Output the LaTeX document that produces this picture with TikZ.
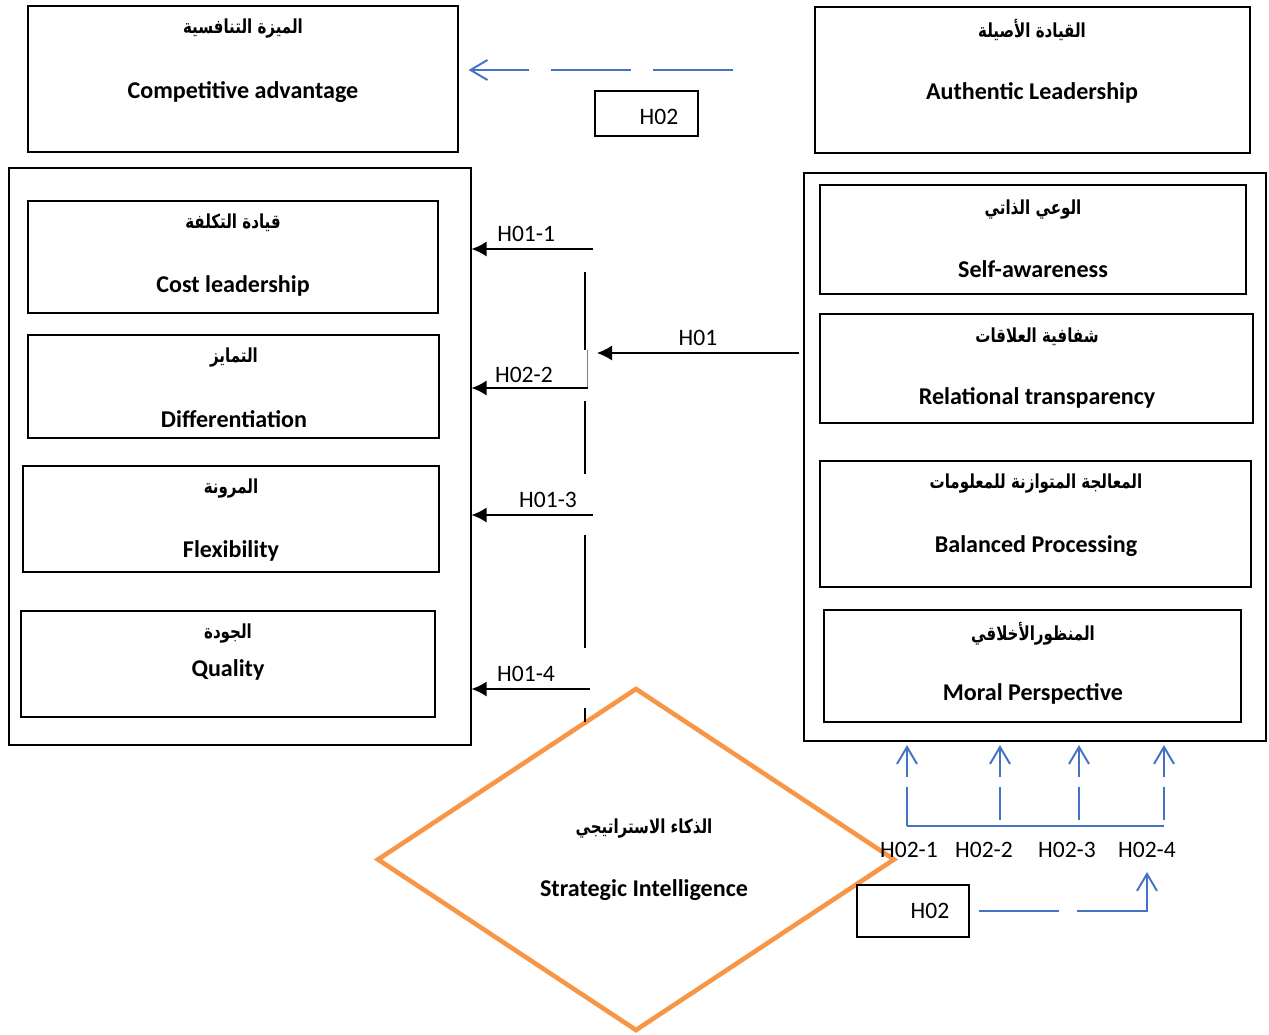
\documentclass[tikz,border=0pt]{standalone}
\usepackage{fontspec}
\setmainfont{Carlito}
\newfontfamily\arabicfont[Script=Arabic]{DejaVu Sans}
\TeXXeTstate=1
\usetikzlibrary{shapes.geometric,arrows.meta}
\definecolor{lineblue}{HTML}{4472C4}
\definecolor{diamorange}{HTML}{F79646}
\newcommand{\artext}[1]{\scalebox{0.78}[1]{\beginR #1\endR}}
\tikzset{
  box/.style={draw, line width=0.7pt, inner sep=0pt},
  en/.style={font=\fontsize{13.7}{16}\selectfont\bfseries},
  ar/.style={font=\fontsize{11}{13}\arabicfont\bfseries},
  lab/.style={font=\fontsize{13.4}{15}\selectfont, inner sep=1pt},
  harrow/.style={-{Latex[length=3mm,width=3mm]}, line width=0.8pt},
  barrow/.style={-{Straight Barb[length=3.4mm,width=4mm]}, lineblue, line width=1.1pt},
}
\begin{document}
\begin{tikzpicture}[x=0.02cm, y=-0.02cm]
        \useasboundingbox (0,0) rectangle (1269,1035);
        % boxes
        \node[box, minimum width=8.6cm, minimum height=2.92cm] (adv) at (243,79) {};
        \node[box, minimum width=8.7cm, minimum height=2.92cm] (auth) at (1032.5,80) {};
        \node[box, minimum width=2.06cm, minimum height=0.9cm] (h02a) at (646.5,113.5) {};
        \node[box, minimum width=9.24cm, minimum height=11.54cm] (left) at (240,456.5) {};
            \node[box, minimum width=8.2cm, minimum height=2.24cm] (cost) at (233,257) {};
            \node[box, minimum width=8.22cm, minimum height=2.06cm] (diff) at (233.5,386.5) {};
            \node[box, minimum width=8.32cm, minimum height=2.12cm] (flex) at (231,519) {};
            \node[box, minimum width=8.28cm, minimum height=2.12cm] (qual) at (228,664) {};
        \node[box, minimum width=9.24cm, minimum height=11.36cm] (right) at (1035,457) {};
            \node[box, minimum width=8.52cm, minimum height=2.18cm] (self) at (1033,239.5) {};
            \node[box, minimum width=8.66cm, minimum height=2.18cm] (rel) at (1036.5,368.5) {};
            \node[box, minimum width=8.62cm, minimum height=2.52cm] (bal) at (1035.5,524) {};
            \node[box, minimum width=8.34cm, minimum height=2.24cm] (moral) at (1032.5,666) {};
        \node[draw=diamorange, line width=2.6pt, diamond, inner sep=0pt,
              minimum width=10.36cm, minimum height=6.86cm] (si) at (636,859.5) {};
        \node[box, minimum width=2.24cm, minimum height=1.04cm] (h02b) at (913,911) {};
        % texts
        \node[lab] (h02a-t) at (659,117) {H02};
        \node[lab] (h02b-t) at (930,911) {H02};
        \node[ar] (adv-ar) at (243,29) {\artext{الميزة التنافسية}};
        \node[en] (adv-en) at (243,92) {Competitive advantage};
        \node[ar] (auth-ar) at (1032,30) {\artext{القيادة الأصيلة}};
        \node[en] (auth-en) at (1032,93) {Authentic Leadership};
        \node[ar] (cost-ar) at (233,223) {\artext{قيادة التكلفة}};
        \node[en] (cost-en) at (233,286) {Cost leadership};
        \node[ar] (diff-ar) at (234,358) {\artext{التمايز}};
        \node[en] (diff-en) at (234,419) {Differentiation};
        \node[ar] (flex-ar) at (231,489) {\artext{المرونة}};
        \node[en] (flex-en) at (231,551) {Flexibility};
        \node[ar] (qual-ar) at (228,634) {\artext{الجودة}};
        \node[en] (qual-en) at (228,670) {Quality};
        \node[ar] (self-ar) at (1033,210) {\artext{الوعي الذاتي}};
        \node[en] (self-en) at (1033,269) {Self-awareness};
        \node[ar] (rel-ar) at (1037,337) {\artext{شفافية العلاقات}};
        \node[en] (rel-en) at (1037,398) {Relational transparency};
        \node[ar] (bal-ar) at (1036,484) {\artext{المعالجة المتوازنة للمعلومات}};
        \node[en] (bal-en) at (1036,546) {Balanced Processing};
        \node[ar] (moral-ar) at (1033,634) {\artext{المنظورالأخلاقي}};
        \node[en] (moral-en) at (1033,694) {Moral Perspective};
        \node[ar] (si-ar) at (644,829) {\artext{الذكاء الاستراتيجي}};
        \node[en] (si-en) at (644,890) {Strategic Intelligence};
        \node[lab] (l21) at (909,850) {H02-1};
        \node[lab] (l22) at (984,850) {H02-2};
        \node[lab] (l23) at (1067,850) {H02-3};
        \node[lab] (l24) at (1147,850) {H02-4};
        % coordinates
        \coordinate (t1) at (733,70);
        \coordinate (a1) at (593,249);
        \coordinate (a2) at (588,388);
        \coordinate (a3) at (593,515);
        \coordinate (a4) at (590,689);
        \coordinate (h01s) at (799,353);
        \coordinate (h01e) at (597,353);
        \coordinate (b1) at (907,826);
        \coordinate (b2) at (1000,826);
        \coordinate (b3) at (1079,826);
        \coordinate (b4) at (1164,826);
        \coordinate (c4) at (1147,872);
        % vertical line
        \foreach \a/\b in {272/350, 401/474, 535/648, 708/722}
            \draw[line width=0.8pt] (585,\a) -- (585,\b);
        \draw[gray, line width=0.4pt] (587,350) -- (587,388);
        % arrows
        \draw[barrow, dash pattern=on 1.6cm off 0.44cm, shorten >=0.2cm] (t1) -- (t1 -| adv.east);
        \draw[harrow] (a1) -- node[lab, above=2.5pt, pos=0.55] {H01-1} (a1 -| left.east);
        \draw[harrow] (a2) -- node[lab, above=1.5pt, pos=0.55] {H02-2} (a2 -| left.east);
        \draw[harrow] (a3) -- node[lab, above=2.5pt, pos=0.37] {H01-3} (a3 -| left.east);
        \draw[harrow] (a4) -- node[lab, above=2.5pt, pos=0.54] {H01-4} (a4 -| left.east);
        \draw[harrow] (h01s) -- node[lab, above=3pt] {H01} (h01e);
        \draw[lineblue, line width=1.1pt] (b1) -- (b4);
        \draw[barrow, dash pattern=on 0.78cm off 0.2cm, shorten >=2pt] (b1) -- (b1 |- right.south);
        \foreach \i in {2,3,4}
            \draw[barrow, dash pattern=on 0.66cm off 0.2cm, dash phase=-0.12cm, shorten >=2pt] (b\i) -- (b\i |- right.south);
        \draw[barrow, dash pattern=on 1.6cm off 0.36cm on 3cm off 0.1cm, shorten <=0.18cm] (h02b.east) -| (c4);
\end{tikzpicture}
\end{document}
